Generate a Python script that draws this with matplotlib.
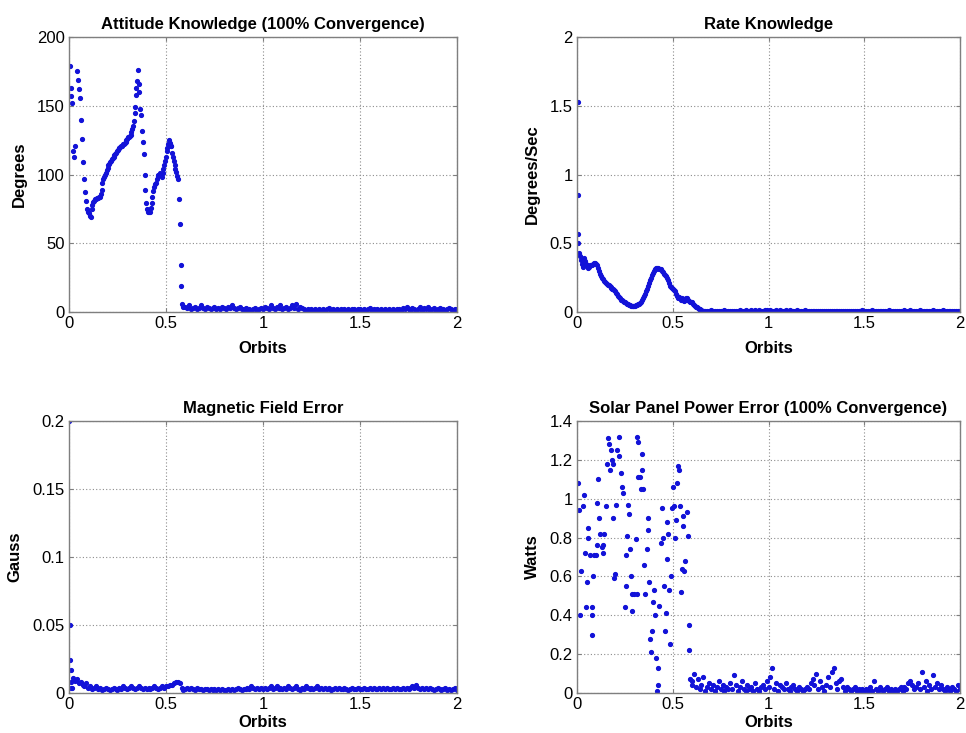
import numpy as np
import matplotlib
matplotlib.use('Agg')
import matplotlib.pyplot as plt

plt.rcParams['font.family'] = ['Liberation Sans', 'DejaVu Sans']

# --- attitude knowledge (deg), first 0.6 orbit read point by point
att_x = [0.005, 0.009, 0.012, 0.016, 0.020, 0.025, 0.033, 0.042, 0.044, 0.050,
         0.055, 0.062, 0.068, 0.072, 0.077, 0.082, 0.086, 0.092, 0.097, 0.103,
         0.108, 0.112, 0.117, 0.121, 0.126, 0.130, 0.135, 0.140, 0.145, 0.150,
         0.155, 0.160, 0.164, 0.168, 0.172, 0.176, 0.181, 0.185, 0.190, 0.194,
         0.199, 0.203, 0.207, 0.212, 0.216, 0.221, 0.225, 0.230, 0.234, 0.238,
         0.243, 0.247, 0.251, 0.256, 0.260, 0.265, 0.269, 0.274, 0.278, 0.283,
         0.287, 0.292, 0.296, 0.301, 0.305, 0.310, 0.314, 0.318, 0.322, 0.326,
         0.330, 0.334, 0.338, 0.341, 0.345, 0.348, 0.352, 0.356, 0.360, 0.363,
         0.367, 0.371, 0.375, 0.380, 0.385, 0.390, 0.394, 0.398, 0.403, 0.407,
         0.412, 0.416, 0.421, 0.426, 0.430, 0.435, 0.439, 0.444, 0.448, 0.452,
         0.457, 0.461, 0.465, 0.470, 0.474, 0.479, 0.483, 0.487, 0.491, 0.495,
         0.499, 0.503, 0.507, 0.511, 0.515, 0.519, 0.524, 0.528, 0.532, 0.536,
         0.540, 0.544, 0.548, 0.552, 0.556, 0.560, 0.566, 0.571, 0.575, 0.579,
         0.585, 0.590]
att_y = [179, 163, 157, 152, 117, 113, 121, 175, 169, 162,
         156, 140, 126, 109, 97, 87, 81, 75, 73, 72,
         70, 69, 75, 78, 80, 81, 82, 82, 83, 83,
         84, 84, 86, 89, 94, 97, 98, 100, 101, 103,
         105, 107, 108, 109, 110, 111, 112, 113, 114, 115,
         116, 117, 118, 119, 119, 120, 121, 121, 122, 122,
         123, 124, 125, 126, 127, 127, 128, 129, 131, 133,
         135, 139, 145, 149, 158, 163, 168, 176, 166, 160,
         148, 143, 132, 124, 115, 100, 89, 79, 75, 73,
         73, 73, 76, 79, 84, 88, 91, 93, 94, 97,
         99, 100, 100, 101, 100, 98, 101, 104, 107, 110,
         113, 117, 119, 122, 125, 123, 121, 121, 116, 113,
         110, 107, 104, 102, 99, 97, 82, 64, 34, 19,
         6, 4]
# 0.60 .. 2.00 orbits, one sample every 0.01
att_tail = [4, 3, 5, 2, 3, 4, 2, 3, 5, 3,
            2, 4, 3, 2, 3, 4, 2, 3, 2, 4,
            3, 2, 4, 3, 5, 3, 2, 3, 4, 2,
            2, 3, 1, 2, 1, 2, 3, 1, 2, 3,
            2, 4, 3, 2, 5, 3, 2, 4, 3, 5,
            2, 3, 4, 2, 3, 5, 3, 6, 2, 4,
            3, 2, 1, 2, 1, 2, 1, 2, 1, 2,
            1, 2, 1, 2, 3, 1, 2, 1, 2, 1,
            2, 1, 2, 1, 2, 1, 2, 2, 1, 2,
            2, 1, 2, 1, 2, 3, 1, 2, 1, 2,
            1, 2, 1, 2, 1, 2, 1, 2, 1, 2,
            2, 1, 3, 2, 4, 2, 1, 3, 2, 1,
            2, 4, 1, 3, 2, 4, 1, 2, 3, 1,
            2, 3, 1, 2, 1, 2, 3, 2, 1, 2,
            2]

# --- rate knowledge (deg/s)
rate_start_x = [0.004, 0.004, 0.004]
rate_start_y = [1.53, 0.85, 0.57]
# 0.005 .. 0.670 orbits, one sample every 0.005
rate_head = [0.50, 0.43, 0.41, 0.38, 0.35, 0.33, 0.39, 0.37, 0.35, 0.34,
             0.33, 0.32, 0.33, 0.34, 0.34, 0.34, 0.35, 0.36, 0.355, 0.35,
             0.34, 0.32, 0.30, 0.28, 0.265, 0.25, 0.24, 0.225, 0.22, 0.21,
             0.205, 0.20, 0.195, 0.19, 0.18, 0.175, 0.17, 0.165, 0.16, 0.15,
             0.14, 0.13, 0.12, 0.11, 0.10, 0.09, 0.085, 0.08, 0.075, 0.07,
             0.065, 0.06, 0.055, 0.05, 0.05, 0.045, 0.045, 0.045, 0.045, 0.045,
             0.045, 0.05, 0.05, 0.055, 0.06, 0.065, 0.075, 0.085, 0.10, 0.115,
             0.13, 0.15, 0.17, 0.19, 0.21, 0.23, 0.25, 0.27, 0.285, 0.30,
             0.31, 0.315, 0.32, 0.32, 0.32, 0.315, 0.31, 0.31, 0.30, 0.29,
             0.28, 0.27, 0.26, 0.245, 0.23, 0.21, 0.19, 0.18, 0.175, 0.165,
             0.16, 0.15, 0.13, 0.12, 0.11, 0.10, 0.11, 0.10, 0.09, 0.10,
             0.09, 0.08, 0.09, 0.10, 0.10, 0.09, 0.08, 0.075, 0.07, 0.07,
             0.06, 0.05, 0.045, 0.04, 0.035, 0.03, 0.025, 0.02, 0.015, 0.015,
             0.01, 0.01, 0.01, 0.008]
# 0.68 .. 2.00 orbits, one sample every 0.01
rate_tail = [0.010, 0.008, 0.012, 0.006, 0.010, 0.008, 0.011, 0.007, 0.009, 0.012,
             0.008, 0.010, 0.006, 0.011, 0.009, 0.007, 0.010, 0.012, 0.008, 0.010,
             0.013, 0.009, 0.011, 0.015, 0.010, 0.012, 0.008, 0.014, 0.011, 0.009,
             0.012, 0.016, 0.010, 0.013, 0.011, 0.008, 0.012, 0.010, 0.014, 0.009,
             0.011, 0.013, 0.010, 0.012, 0.008, 0.011, 0.009, 0.012, 0.010, 0.008,
             0.010, 0.012, 0.009, 0.007, 0.010, 0.008, 0.011, 0.009, 0.007, 0.010,
             0.008, 0.006, 0.009, 0.007, 0.010, 0.008, 0.006, 0.009, 0.007, 0.008,
             0.010, 0.007, 0.009, 0.006, 0.008, 0.010, 0.007, 0.009, 0.011, 0.008,
             0.010, 0.012, 0.009, 0.011, 0.008, 0.010, 0.012, 0.009, 0.007, 0.010,
             0.008, 0.011, 0.009, 0.010, 0.008, 0.012, 0.010, 0.008, 0.011, 0.009,
             0.007, 0.010, 0.008, 0.012, 0.009, 0.011, 0.013, 0.010, 0.008, 0.011,
             0.009, 0.012, 0.010, 0.008, 0.011, 0.009, 0.007, 0.010, 0.012, 0.009,
             0.011, 0.008, 0.010, 0.012, 0.009, 0.011, 0.008, 0.010, 0.009, 0.011,
             0.008, 0.010, 0.009]

# --- magnetic field error (gauss)
mag_start_x = [0.000, 0.005, 0.004, 0.010, 0.008, 0.015]
mag_start_y = [0.200, 0.050, 0.024, 0.017, 0.008, 0.004]
# 0.01 .. 2.00 orbits, one sample every 0.01
mag_vals = [0.004, 0.011, 0.009, 0.010, 0.007, 0.008, 0.006, 0.005, 0.007, 0.004,
            0.005, 0.003, 0.004, 0.005, 0.003, 0.004, 0.002, 0.003, 0.004, 0.003,
            0.002, 0.003, 0.004, 0.003, 0.002, 0.004, 0.003, 0.005, 0.004, 0.003,
            0.004, 0.005, 0.004, 0.003, 0.004, 0.005, 0.004, 0.003, 0.004, 0.003,
            0.004, 0.003, 0.004, 0.005, 0.004, 0.003, 0.004, 0.005, 0.004, 0.005,
            0.005, 0.006, 0.006, 0.007, 0.008, 0.008, 0.007, 0.004, 0.002, 0.003,
            0.004, 0.003, 0.004, 0.003, 0.002, 0.004, 0.003, 0.003, 0.002, 0.003,
            0.003, 0.002, 0.003, 0.002, 0.003, 0.002, 0.003, 0.002, 0.003, 0.002,
            0.002, 0.003, 0.002, 0.003, 0.002, 0.003, 0.004, 0.003, 0.002, 0.003,
            0.003, 0.004, 0.003, 0.005, 0.004, 0.003, 0.004, 0.003, 0.004, 0.003,
            0.004, 0.003, 0.004, 0.005, 0.003, 0.004, 0.005, 0.003, 0.004, 0.003,
            0.004, 0.003, 0.005, 0.004, 0.003, 0.004, 0.005, 0.003, 0.002, 0.004,
            0.003, 0.005, 0.004, 0.003, 0.004, 0.003, 0.004, 0.005, 0.003, 0.004,
            0.003, 0.004, 0.003, 0.004, 0.002, 0.003, 0.004, 0.003, 0.004, 0.003,
            0.003, 0.004, 0.003, 0.002, 0.003, 0.004, 0.003, 0.003, 0.004, 0.003,
            0.003, 0.004, 0.003, 0.003, 0.004, 0.003, 0.004, 0.003, 0.003, 0.004,
            0.003, 0.004, 0.003, 0.004, 0.003, 0.003, 0.004, 0.003, 0.004, 0.003,
            0.003, 0.004, 0.003, 0.004, 0.003, 0.004, 0.005, 0.004, 0.006, 0.004,
            0.003, 0.004, 0.003, 0.004, 0.003, 0.004, 0.003, 0.002, 0.003, 0.004,
            0.003, 0.002, 0.003, 0.004, 0.002, 0.003, 0.002, 0.003, 0.004, 0.002]

# --- solar panel power error (W), scattered first 0.6 orbit
sol_x = [0.007, 0.012, 0.019, 0.016, 0.030, 0.037, 0.042, 0.047, 0.050, 0.056,
         0.059, 0.068, 0.077, 0.080, 0.077, 0.085, 0.090, 0.099, 0.106, 0.103,
         0.111, 0.117, 0.120, 0.129, 0.134, 0.138, 0.143, 0.150, 0.155, 0.164,
         0.167, 0.172, 0.178, 0.181, 0.186, 0.190, 0.195, 0.198, 0.204, 0.207,
         0.219, 0.221, 0.230, 0.233, 0.238, 0.251, 0.254, 0.256, 0.259, 0.265,
         0.272, 0.277, 0.282, 0.285, 0.289, 0.298, 0.306, 0.312, 0.315, 0.320,
         0.320, 0.329, 0.334, 0.338, 0.341, 0.346, 0.352, 0.355, 0.364, 0.369,
         0.372, 0.376, 0.381, 0.386, 0.393, 0.399, 0.404, 0.407, 0.413, 0.421,
         0.421, 0.416, 0.430, 0.437, 0.442, 0.447, 0.454, 0.460, 0.465, 0.468,
         0.472, 0.477, 0.480, 0.486, 0.491, 0.496, 0.503, 0.508, 0.512, 0.517,
         0.520, 0.526, 0.531, 0.538, 0.543, 0.548, 0.552, 0.555, 0.560, 0.566,
         0.573, 0.578, 0.583, 0.583, 0.590, 0.599]
sol_y = [1.08, 0.94, 0.63, 0.40, 0.96, 1.02, 0.72, 0.44, 0.57, 0.80,
         0.85, 0.71, 0.44, 0.40, 0.30, 0.60, 0.71, 0.71, 0.98, 0.76,
         1.10, 0.90, 0.82, 0.75, 0.72, 0.76, 0.82, 0.96, 1.18, 1.31,
         1.28, 1.15, 1.25, 1.20, 1.18, 0.90, 0.59, 0.61, 0.97, 1.25,
         1.32, 1.22, 1.13, 1.06, 1.03, 0.44, 0.55, 0.71, 0.81, 0.97,
         0.92, 0.74, 0.60, 0.51, 0.42, 0.51, 0.79, 0.51, 1.32, 1.29,
         1.11, 1.11, 1.05, 1.15, 1.23, 1.05, 0.66, 0.51, 0.74, 0.90,
         0.84, 0.57, 0.28, 0.21, 0.32, 0.47, 0.53, 0.40, 0.18, 0.13,
         0.04, 0.01, 0.45, 0.77, 0.95, 0.80, 0.55, 0.32, 0.41, 0.69,
         0.88, 0.82, 0.53, 0.25, 0.60, 0.95, 1.06, 0.96, 0.80, 0.89,
         1.08, 1.17, 1.15, 0.96, 0.52, 0.64, 0.91, 0.86, 0.63, 0.68,
         0.93, 0.81, 0.35, 0.22, 0.07, 0.04]
# 0.60 .. 2.00 orbits, one sample every 0.01
sol_tail = [0.06, 0.10, 0.03, 0.07, 0.02, 0.04, 0.08, 0.01, 0.03, 0.05,
            0.02, 0.04, 0.01, 0.03, 0.06, 0.02, 0.04, 0.01, 0.03, 0.02,
            0.05, 0.02, 0.09, 0.04, 0.01, 0.03, 0.06, 0.02, 0.01, 0.04,
            0.02, 0.03, 0.01, 0.05, 0.02, 0.01, 0.03, 0.04, 0.02, 0.06,
            0.03, 0.08, 0.13, 0.02, 0.05, 0.01, 0.04, 0.03, 0.02, 0.05,
            0.02, 0.01, 0.03, 0.04, 0.02, 0.01, 0.03, 0.02, 0.01, 0.02,
            0.03, 0.02, 0.05, 0.07, 0.04, 0.10, 0.02, 0.06, 0.03, 0.01,
            0.04, 0.08, 0.03, 0.11, 0.13, 0.05, 0.02, 0.06, 0.07, 0.03,
            0.01, 0.03, 0.02, 0.01, 0.02, 0.03, 0.01, 0.02, 0.01, 0.02,
            0.01, 0.02, 0.01, 0.03, 0.01, 0.06, 0.02, 0.01, 0.03, 0.02,
            0.01, 0.02, 0.03, 0.01, 0.02, 0.01, 0.02, 0.01, 0.02, 0.03,
            0.01, 0.03, 0.02, 0.05, 0.06, 0.04, 0.02, 0.03, 0.05, 0.02,
            0.11, 0.03, 0.06, 0.01, 0.04, 0.02, 0.09, 0.03, 0.05, 0.02,
            0.04, 0.02, 0.01, 0.03, 0.02, 0.01, 0.03, 0.02, 0.01, 0.04,
            0.02]

t_tail60 = np.round(np.arange(60, 201) * 0.01, 2)
t_tail68 = np.round(np.arange(68, 201) * 0.01, 2)
t_rate = np.round(np.arange(1, 135) * 0.005, 3)
t_mag = np.round(np.arange(1, 201) * 0.01, 2)

blue = '#1212d8'
grey = '#7f7f7f'
ms = 5.5

fig = plt.figure(figsize=(9.66, 7.33), dpi=100)
ax1 = fig.add_axes([0.0714, 0.5743, 0.4017, 0.3752])
ax2 = fig.add_axes([0.5973, 0.5743, 0.3965, 0.3752])
ax3 = fig.add_axes([0.0714, 0.0546, 0.4017, 0.3711])
ax4 = fig.add_axes([0.5973, 0.0546, 0.3965, 0.3711])

ax1.plot(att_x, att_y, '.', color=blue, ms=ms)
ax1.plot(t_tail60, att_tail, '.', color=blue, ms=ms)
ax2.plot(rate_start_x, rate_start_y, '.', color=blue, ms=ms)
ax2.plot(t_rate, rate_head, '.', color=blue, ms=ms)
ax2.plot(t_tail68, rate_tail, '.', color=blue, ms=ms)
ax3.plot(mag_start_x, mag_start_y, '.', color=blue, ms=ms)
ax3.plot(t_mag, mag_vals, '.', color=blue, ms=ms)
ax4.plot(sol_x, sol_y, '.', color=blue, ms=ms)
ax4.plot(t_tail60, sol_tail, '.', color=blue, ms=ms)

setup = [
    (ax1, 'Attitude Knowledge (100% Convergence)', 'Degrees', 200, [0, 50, 100, 150, 200], None, 7),
    (ax2, 'Rate Knowledge', 'Degrees/Sec', 2, [0, 0.5, 1, 1.5, 2], ['0', '0.5', '1', '1.5', '2'], 7),
    (ax3, 'Magnetic Field Error', 'Gauss', 0.2, [0, 0.05, 0.1, 0.15, 0.2], ['0', '0.05', '0.1', '0.15', '0.2'], 2),
    (ax4, 'Solar Panel Power Error (100% Convergence)', 'Watts', 1.4,
     [0, 0.2, 0.4, 0.6, 0.8, 1, 1.2, 1.4], ['0', '0.2', '0.4', '0.6', '0.8', '1', '1.2', '1.4'], 2),
]
for ax, title, ylab, ymax, yt, ytl, xpad in setup:
    ax.set_xlim(0, 2)
    ax.set_ylim(0, ymax)
    ax.set_xticks([0, 0.5, 1, 1.5, 2])
    ax.set_xticklabels(['0', '0.5', '1', '1.5', '2'])
    ax.set_yticks(yt)
    if ytl is not None:
        ax.set_yticklabels(ytl)
    ax.grid(True, linestyle=(0, (1, 2)), color='#8c8c8c', linewidth=0.8)
    ax.set_axisbelow(True)
    for s in ax.spines.values():
        s.set_color(grey)
        s.set_linewidth(1.0)
    ax.tick_params(direction='in', length=3, colors=grey, labelcolor='black',
                   labelsize=12, top=True, right=True, pad=3)
    ax.set_title(title, fontsize=12, fontweight='bold', pad=6)
    ax.set_xlabel('Orbits', fontsize=12, fontweight='bold', labelpad=xpad)
    ax.set_ylabel(ylab, fontsize=12, fontweight='bold', labelpad=7)

fig.savefig('out.png', dpi=100)
